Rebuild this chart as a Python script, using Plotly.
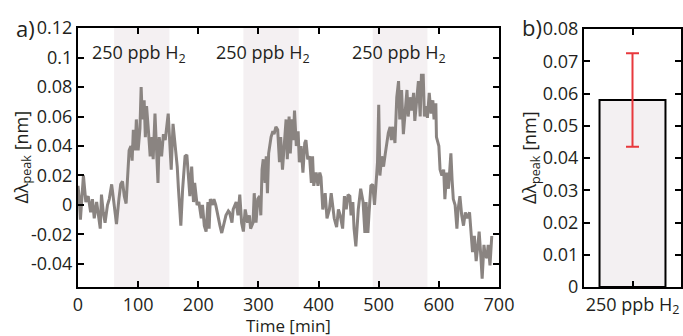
import plotly.graph_objects as go

# ---------------- data ----------------
time_min = [0, 2, 4, 6, 9, 13, 17, 21, 24, 27, 31, 37, 39, 42, 45, 49, 52, 56, 60, 64,
            68, 71, 74, 77, 80, 83, 85, 88, 90, 92, 95, 97, 100, 103, 105, 107, 110, 112, 114, 117,
            120, 123, 125, 128, 131, 133, 135, 139, 142, 145, 150, 152, 155, 158, 162, 165, 167, 171, 174, 176,
            178, 181, 184, 186, 189, 192, 194, 198, 201, 205, 207, 210, 213, 216, 218, 220, 224, 226, 229, 233,
            236, 239, 243, 246, 250, 252, 256, 258, 263, 266, 269, 272, 275, 278, 282, 285, 287, 291, 293, 296,
            299, 302, 304, 306, 308, 311, 313, 315, 317, 319, 321, 324, 326, 329, 332, 335, 337, 340, 343, 346,
            348, 351, 353, 356, 358, 360, 363, 366, 368, 371, 374, 377, 379, 382, 385, 388, 390, 392, 396, 399,
            402, 404, 407, 411, 414, 418, 421, 424, 426, 430, 433, 436, 440, 443, 446, 449, 452, 454, 457, 459,
            462, 466, 468, 470, 474, 477, 479, 482, 484, 487, 490, 493, 496, 498, 500, 502, 505, 508, 511, 513,
            516, 519, 521, 524, 527, 530, 533, 535, 538, 541, 544, 547, 549, 552, 555, 558, 560, 563, 566, 569,
            571, 574, 576, 579, 581, 584, 587, 590, 592, 595, 596, 600, 602, 605, 608, 610, 613, 616, 620, 622,
            624, 627, 630, 632, 635, 638, 641, 644, 647, 651, 654, 656, 659, 662, 665, 667, 670, 672, 675, 677,
            680, 682, 685, 688]
delta_peak = [0.013, 0.005, -0.010, 0.002, 0.020, 0.002, 0.006, -0.005, 0.004, -0.009, 0.002, -0.016, 0.007, -0.005, -0.012, 0.000, 0.004, 0.014, 0.002, -0.013,
              0.004, 0.014, 0.016, 0.006, 0.001, 0.024, 0.037, 0.040, 0.030, 0.051, 0.037, 0.058, 0.037, 0.052, 0.080, 0.058, 0.071, 0.046, 0.067, 0.051,
              0.033, 0.046, 0.031, 0.062, 0.028, 0.015, 0.046, 0.033, 0.048, 0.044, 0.062, 0.046, 0.024, 0.055, 0.040, 0.026, 0.011, -0.014, 0.011, 0.024,
              0.033, 0.034, 0.017, 0.006, 0.026, 0.002, 0.015, 0.000, 0.002, -0.009, 0.000, -0.014, -0.018, 0.002, -0.016, 0.004, 0.000, 0.004, 0.000, -0.009,
              -0.014, -0.019, -0.012, -0.007, -0.004, -0.005, -0.012, -0.003, 0.002, -0.007, 0.007, -0.012, -0.018, -0.003, -0.012, -0.007, -0.016, -0.012, 0.008, -0.012,
              0.004, 0.006, -0.007, 0.024, 0.031, 0.015, 0.033, 0.008, 0.035, 0.040, 0.046, 0.050, 0.048, 0.053, 0.051, 0.029, 0.046, 0.024, 0.040, 0.058,
              0.031, 0.060, 0.035, 0.058, 0.044, 0.064, 0.040, 0.050, 0.029, 0.040, 0.022, 0.042, 0.044, 0.031, 0.033, 0.015, 0.033, 0.013, 0.022, 0.013,
              0.022, 0.019, -0.003, 0.008, -0.009, -0.003, 0.008, -0.003, -0.009, -0.015, -0.003, -0.007, -0.016, 0.006, -0.003, 0.007, 0.006, -0.007, 0.002, -0.016,
              -0.028, -0.003, 0.006, 0.011, 0.002, -0.019, 0.002, -0.019, -0.005, 0.013, 0.014, 0.000, 0.017, 0.029, 0.068, 0.020, 0.033, 0.026, 0.035, 0.042,
              0.049, 0.053, 0.044, 0.053, 0.042, 0.073, 0.084, 0.058, 0.078, 0.048, 0.064, 0.078, 0.060, 0.073, 0.064, 0.076, 0.057, 0.073, 0.084, 0.060,
              0.088, 0.088, 0.060, 0.067, 0.059, 0.076, 0.062, 0.071, 0.058, 0.069, 0.046, 0.040, 0.024, 0.020, 0.024, 0.004, 0.022, 0.011, 0.035, 0.017,
              0.004, 0.000, -0.016, -0.003, 0.006, -0.007, -0.014, -0.005, -0.009, -0.005, -0.021, -0.032, -0.021, -0.038, -0.027, -0.018, -0.036, -0.050, -0.027, -0.034,
              -0.036, -0.027, -0.041, -0.021]

exposure_start = [60, 275, 490]
exposure_end = [152, 367, 581]
exposure_label_x = [101, 307, 534]
exposure_label = "250 ppb H<sub>2</sub>"

bar_categories = ["250 ppb H<sub>2</sub>"]
bar_values = [0.058]
bar_errors = [0.0145]

left_x_ticks = [0, 100, 200, 300, 400, 500, 600, 700]
left_y_ticks = [-0.04, -0.02, 0, 0.02, 0.04, 0.06, 0.08, 0.1, 0.12]
left_y_ticktext = ["-0.04", "-0.02", "0", "0.02", "0.04", "0.06", "0.08", "0.1", "0.12"]
right_y_ticks = [0, 0.01, 0.02, 0.03, 0.04, 0.05, 0.06, 0.07, 0.08]
right_y_ticktext = ["0", "0.01", "0.02", "0.03", "0.04", "0.05", "0.06", "0.07", "0.08"]

# ---------------- figure ----------------
FONT = "Open Sans"
TXT = "#231f20"
W, H = 683, 336

fig = go.Figure()

fig.add_trace(go.Scatter(
    x=time_min, y=delta_peak, mode="lines",
    line=dict(color="#8a8481", width=3),
    xaxis="x", yaxis="y", showlegend=False, hoverinfo="skip"))

fig.add_trace(go.Bar(
    x=bar_categories, y=bar_values, width=0.68,
    marker=dict(color="#f3f0f2", line=dict(color="black", width=2)),
    error_y=dict(type="data", array=bar_errors, color="#e8383d", thickness=2, width=6.5),
    xaxis="x2", yaxis="y2", showlegend=False, hoverinfo="skip"))

for s, e in zip(exposure_start, exposure_end):
    fig.add_shape(type="rect", xref="x", yref="y domain", x0=s, x1=e, y0=0, y1=1,
                  fillcolor="#f4f0f2", line=dict(width=0), layer="below")

for lx in exposure_label_x:
    fig.add_annotation(x=lx, y=0.103, xref="x", yref="y", text=exposure_label,
                       showarrow=False, font=dict(family=FONT, size=18, color=TXT))

axis_common = dict(showline=True, linecolor="black", linewidth=2, mirror="ticks",
                   ticks="inside", ticklen=6, tickwidth=2, tickcolor="black",
                   showgrid=False, zeroline=False, automargin=False,
                   tickfont=dict(family=FONT, size=18, color=TXT))

ydom = [1 - 287 / H, 1 - 28 / H]
fig.update_layout(
    width=W, height=H,
    margin=dict(l=0, r=0, t=0, b=0),
    paper_bgcolor="white", plot_bgcolor="white",
    xaxis=dict(domain=[78 / W, 499 / W], range=[0, 700], tickvals=left_x_ticks,
               **axis_common),
    yaxis=dict(domain=ydom, range=[-0.0556, 0.12], tickvals=left_y_ticks, ticktext=left_y_ticktext,
               **axis_common),
    xaxis2=dict(domain=[584 / W, 681 / W], range=[-0.5, 0.5], anchor="y2", type="category",
                **axis_common),
    yaxis2=dict(domain=[1 - 287 / H, 1 - 29 / H], range=[0, 0.08], anchor="x2",
                tickvals=right_y_ticks, ticktext=right_y_ticktext,
                **axis_common),
)

title_font = dict(family=FONT, size=18, color=TXT)
# axis titles placed as annotations for exact positioning
fig.add_annotation(x=288.5 / W, y=1 - 325 / H, xref="paper", yref="paper", xanchor="center", yanchor="middle",
                   text="Time [min]", showarrow=False, font=dict(family=FONT, size=17, color=TXT))
fig.add_annotation(x=22 / W, y=1 - 157.5 / H, xref="paper", yref="paper", xanchor="center", yanchor="middle",
                   text="Δλ<sub>peak</sub> [nm]", textangle=-90, showarrow=False, font=title_font)
fig.add_annotation(x=530 / W, y=1 - 158 / H, xref="paper", yref="paper", xanchor="center", yanchor="middle",
                   text="Δλ<sub>peak</sub> [nm]", textangle=-90, showarrow=False, font=title_font)

fig.add_annotation(x=14 / W, y=1 - 28 / H, xref="paper", yref="paper", xanchor="left", yanchor="middle",
                   text="a)", showarrow=False, font=dict(family=FONT, size=22, color=TXT))
fig.add_annotation(x=520 / W, y=1 - 27 / H, xref="paper", yref="paper", xanchor="left", yanchor="middle",
                   text="b)", showarrow=False, font=dict(family=FONT, size=22, color=TXT))

fig.write_html("out.html")
